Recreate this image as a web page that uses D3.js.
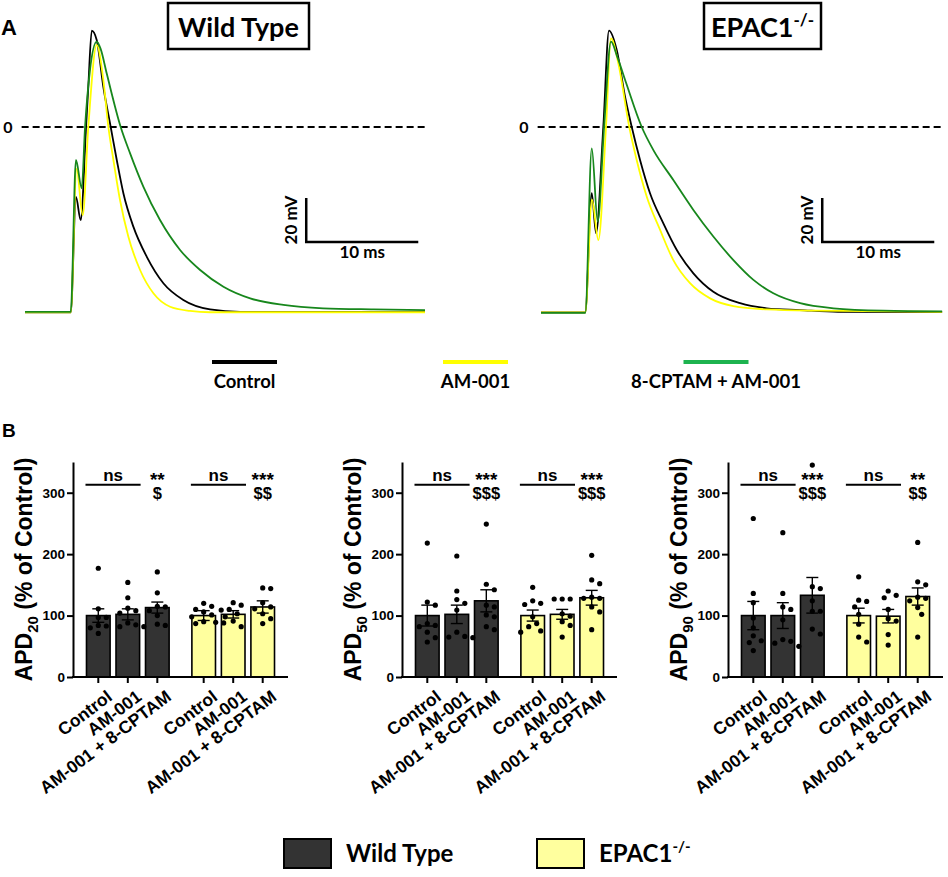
<!DOCTYPE html>
<html>
<head>
<meta charset="utf-8">
<script src="https://cdn.jsdelivr.net/npm/d3@7"></script>
<style>
	body { margin: 0; background: #fff; }
	.calibri { font-family: Lato, "Open Sans", sans-serif; font-weight: 700; }
	.prism { font-family: Arial, "Liberation Sans", sans-serif; font-weight: 700; }
</style>
</head>
<body>
<div id="graphic"></div>
<script>
// ---- panel A: action potential traces, [time ms, membrane potential mV] ----
const wtControl = [[0, -84.3], [4.08, -84.3], [4.55, -31.8], [4.97, -42.3], [5.45, 0], [5.65, 18.3], [5.96, 43.8], [6.40, 39.5], [6.99, 18.3], [7.65, 0], [8.19, -15], [8.78, -30.1], [9.67, -45.3], [10.87, -59], [12.35, -71], [14.13, -78.6], [16.52, -82.9], [19.2, -84], [35.7, -84]];
const wtAm001 = [[0, -84.3], [4.08, -84.3], [4.6, -19], [5.15, -40], [5.65, 0], [6.40, 37.3], [6.99, 21.4], [7.44, 0], [7.89, -15], [8.48, -33.2], [9.22, -49.8], [10.27, -65], [11.46, -75.6], [12.95, -81.7], [14.73, -83.6], [16.5, -84.2], [35.7, -84.2]];
const wtCptam = [[0, -84], [4.08, -84], [4.55, -15], [5.06, -27.9], [5.36, 0], [5.8, 25.9], [6.40, 38.8], [6.75, 35.5], [7.29, 24.4], [8.54, 0], [9.38, -12], [10.56, -27.1], [12.05, -42.3], [13.84, -55.9], [15.63, -65], [17.71, -72.6], [20.1, -77.9], [23.06, -80.9], [26.6, -82.4], [31.1, -82.9], [35.7, -83.2]];

const epacControl = [[0, -84.3], [3.95, -84.3], [4.53, -30.1], [4.91, -48.3], [5.56, 0], [6.07, 43.8], [6.76, 35], [7.5, 13.8], [8.1, 0], [8.84, -15], [9.73, -30.1], [10.92, -43.8], [12.12, -55.9], [13.6, -66.5], [15.38, -74.9], [17.77, -80.1], [20.15, -82.4], [23.1, -83.2], [26.5, -84], [35.8, -84.1]];
const epacAm001 = [[0, -84.3], [3.95, -84.3], [4.55, -33], [5.12, -51.4], [5.8, 0], [6.25, 40.3], [6.9, 29], [7.88, 0], [8.54, -15], [9.44, -31.7], [10.63, -46.8], [11.81, -60.5], [13.3, -71], [15.09, -77.9], [17.17, -81.4], [20.15, -82.9], [24.6, -83.5], [35.8, -84]];
const epacCptam = [[0, -84.5], [3.95, -84.5], [4.53, -9.7], [5.06, -43], [5.63, 0], [6.25, 38.8], [6.8, 32], [7.6, 20], [8.99, 0], [10.03, -10.5], [11.81, -24.1], [13.6, -37.7], [15.38, -49.8], [17.17, -60.5], [18.96, -69.5], [20.74, -75.6], [23.13, -80.1], [26.1, -82.4], [30.56, -83.5], [35.8, -83.8]];

const traceLabels = ['Control', 'AM-001', '8-CPTAM + AM-001'];
const traceColours = ['#000000', '#ffff00', '#17871c'];
const legendColours = ['#000000', '#ffff00', '#1db34f'];

// ---- panel B: APD as % of control ----
const genotypes = ['Wild Type', 'EPAC1-/-'];
const treatments = ['Control', 'AM-001', 'AM-001 + 8-CPTAM'];
const yTicks = [0, 100, 200, 300];

// order: WT Control, WT AM-001, WT AM+8-CPTAM, EPAC Control, EPAC AM-001, EPAC AM+8-CPTAM
const apd20Mean = [100, 102, 113, 100, 102, 114];
const apd20Sem = [11, 9, 9, 8, 6, 10];
const apd20Points = [
	[177, 111, 97, 97, 84, 83, 71, 80],
	[154, 129, 112, 108, 104, 88, 85, 82, 82],
	[171, 137, 115, 114, 108, 100, 86, 84],
	[120, 115, 110, 106, 101, 98, 90, 89, 88, 87],
	[121, 117, 110, 109, 103, 98, 91, 82],
	[145, 144, 121, 114, 111, 103, 95, 87]
];
const apd20Stars = ['**', '***'];
const apd20Dollars = ['$', '$$'];

const apd50Mean = [100, 102, 124, 100, 102, 129];
const apd50Sem = [17, 15, 18, 9, 8, 12];
const apd50Points = [
	[218, 122, 117, 87, 84, 82, 73, 64, 57],
	[197, 140, 126, 120, 109, 73, 66, 65, 64],
	[249, 151, 142, 117, 114, 101, 98, 82, 77],
	[146, 124, 120, 118, 98, 87, 82, 75, 73],
	[127, 127, 127, 103, 99, 90, 84, 65],
	[198, 158, 152, 130, 128, 128, 114, 106, 77]
];
const apd50Stars = ['***', '***'];
const apd50Dollars = ['$$$', '$$$'];

const apd90Mean = [100, 100, 133, 100, 99, 131];
const apd90Sem = [23, 21, 29, 12, 11, 14];
const apd90Points = [
	[258, 136, 121, 96, 80, 67, 59, 56, 43],
	[235, 136, 114, 110, 93, 61, 58, 55, 50],
	[345, 147, 144, 124, 107, 107, 78, 70],
	[163, 125, 123, 114, 102, 86, 65, 57],
	[140, 133, 129, 110, 95, 91, 69, 52],
	[219, 155, 150, 130, 128, 124, 113, 102, 65]
];
const apd90Stars = ['***', '**'];
const apd90Dollars = ['$$$', '$$'];

const barFills = ['#333333', '#ffff9e'];

const graphic = d3.select('#graphic');
const width = 948, height = 877;

function drawGraphic() {
	const svg = graphic.append('svg')
		.attr('width', width)
		.attr('height', height)
		.attr('viewBox', [0, 0, width, height]);

	svg.append('rect').attr('width', width).attr('height', height).attr('fill', '#fff');

	// ================= A : traces =================
	svg.append('text').attr('class', 'prism')
		.attr('x', 1).attr('y', 35)
		.style('font-size', '22px')
		.text('A');

	const yVolt = d3.scaleLinear().domain([-90, 50]).range([325, 17]);

	const tracePanels = [
		{ left: 25, traces: [wtControl, wtAm001, wtCptam], title: 'Wild Type', box: [168, 141] },
		{ left: 541, traces: [epacControl, epacAm001, epacCptam], title: 'EPAC1', sup: '-/-', box: [704, 117] }
	];

	tracePanels.forEach(function (p) {
		const xTime = d3.scaleLinear().domain([0, 35.7]).range([p.left, p.left + 400]);
		const g = svg.append('g');

		// title box
		g.append('rect')
			.attr('x', p.box[0]).attr('y', 3)
			.attr('width', p.box[1]).attr('height', 46)
			.attr('fill', 'none').attr('stroke', '#000').attr('stroke-width', 2.5);

		const title = g.append('text').attr('class', 'calibri')
			.attr('x', p.box[0] + p.box[1] / 2).attr('y', 37)
			.attr('text-anchor', 'middle')
			.style('font-size', '27px');
		title.append('tspan').text(p.title);
		if (p.sup) {
			title.append('tspan').attr('dy', -11).style('font-size', '17px').text(p.sup);
		}

		// zero line
		g.append('line')
			.attr('x1', xTime(-0.3)).attr('x2', xTime(36))
			.attr('y1', yVolt(0)).attr('y2', yVolt(0))
			.attr('stroke', '#000').attr('stroke-width', 2)
			.attr('stroke-dasharray', '7,4');

		g.append('text').attr('class', 'calibri')
			.attr('x', xTime(0) - 17).attr('y', yVolt(0) + 5.5)
			.attr('text-anchor', 'middle')
			.style('font-size', '16px')
			.text('0');

		// traces
		const line = d3.line()
			.curve(d3.curveMonotoneX)
			.x((d) => xTime(d[0]))
			.y((d) => yVolt(d[1]));

		g.selectAll('path.trace')
			.data(p.traces)
			.join('path')
			.attr('class', 'trace')
			.attr('d', line)
			.attr('fill', 'none')
			.attr('stroke', (d, i) => traceColours[i])
			.attr('stroke-width', 1.8)
			.attr('stroke-linejoin', 'round');

		// scale bar: 10 ms by 20 mV
		const sbT = 25.1, sbV = -52.3;
		g.append('path')
			.attr('d', d3.line()([
				[xTime(sbT), yVolt(sbV + 20)],
				[xTime(sbT), yVolt(sbV)],
				[xTime(sbT + 10), yVolt(sbV)]
			]))
			.attr('fill', 'none').attr('stroke', '#000').attr('stroke-width', 2.5);

		g.append('text').attr('class', 'calibri')
			.attr('transform', 'translate(' + (xTime(sbT) - 9) + ',' + yVolt(sbV + 10) + ') rotate(-90)')
			.attr('text-anchor', 'middle')
			.style('font-size', '17px')
			.text('20 mV');

		g.append('text').attr('class', 'calibri')
			.attr('x', xTime(sbT + 5)).attr('y', yVolt(sbV) + 16)
			.attr('text-anchor', 'middle')
			.style('font-size', '17px')
			.text('10 ms');
	});

	// trace legend
	const traceLegendX = [244.5, 475.5, 716];
	const traceLegend = svg.append('g')
		.selectAll('g')
		.data(traceLabels)
		.join('g')
		.attr('transform', (d, i) => 'translate(' + traceLegendX[i] + ',0)');

	traceLegend.append('line')
		.attr('x1', -32.5).attr('x2', 32.5)
		.attr('y1', 362).attr('y2', 362)
		.attr('stroke', (d, i) => legendColours[i])
		.attr('stroke-width', 4);

	traceLegend.append('text').attr('class', 'calibri')
		.attr('y', 388)
		.attr('text-anchor', 'middle')
		.style('font-size', '18.5px')
		.text((d) => d);

	// ================= B : APD bars =================
	svg.append('text').attr('class', 'prism')
		.attr('x', 2).attr('y', 437)
		.style('font-size', '19px')
		.text('B');

	const apdPanels = [
		{ sub: '20', left: 73, means: apd20Mean, sems: apd20Sem, points: apd20Points, stars: apd20Stars, dollars: apd20Dollars },
		{ sub: '50', left: 402, means: apd50Mean, sems: apd50Sem, points: apd50Points, stars: apd50Stars, dollars: apd50Dollars },
		{ sub: '90', left: 728, means: apd90Mean, sems: apd90Sem, points: apd90Points, stars: apd90Stars, dollars: apd90Dollars }
	];

	const axisWidth = 215;
	const y = d3.scaleLinear().domain([0, 350]).range([677, 462]);

	const xGroup = d3.scaleBand()
		.domain(genotypes)
		.range([0, axisWidth])
		.paddingInner(0.16)
		.paddingOuter(0.1);

	const xBar = d3.scaleBand()
		.domain(treatments)
		.range([0, xGroup.bandwidth()])
		.paddingInner(0.2)
		.paddingOuter(0.1);

	const dotR = 2.6;

	// spread close values sideways so dots do not overlap (prism style scatter)
	function swarm(values) {
		const placed = [];
		values
			.map((v) => ({ v: v, py: y(v) }))
			.sort((a, b) => a.py - b.py)
			.forEach(function (p) {
				for (let k = 0; k < 30; k++) {
					const off = k === 0 ? 0 : (k % 2 ? 1 : -1) * Math.ceil(k / 2) * 4;
					if (placed.every((q) => Math.hypot(q.dx - off, q.py - p.py) >= dotR * 2 + 2.5)) {
						p.dx = off;
						break;
					}
				}
				placed.push(p);
			});
		return placed;
	}

	apdPanels.forEach(function (panel) {
		const g = svg.append('g').attr('transform', 'translate(' + panel.left + ',0)');

		const bars = [];
		genotypes.forEach(function (gen, gi) {
			treatments.forEach(function (tr, ti) {
				const i = gi * 3 + ti;
				bars.push({
					gi: gi,
					x: xGroup(gen) + xBar(tr),
					cx: xGroup(gen) + xBar(tr) + xBar.bandwidth() / 2,
					mean: panel.means[i],
					sem: panel.sems[i],
					points: panel.points[i],
					label: tr
				});
			});
		});

		// bars
		g.selectAll('rect.bar')
			.data(bars)
			.join('rect')
			.attr('class', 'bar')
			.attr('x', (d) => d.x)
			.attr('y', (d) => y(d.mean))
			.attr('width', xBar.bandwidth())
			.attr('height', (d) => y(0) - y(d.mean))
			.attr('fill', (d) => barFills[d.gi])
			.attr('stroke', '#000')
			.attr('stroke-width', 1.6);

		// error bars (SEM)
		const err = g.selectAll('g.err').data(bars).join('g').attr('class', 'err');
		err.append('line')
			.attr('x1', (d) => d.cx).attr('x2', (d) => d.cx)
			.attr('y1', (d) => y(d.mean - d.sem)).attr('y2', (d) => y(d.mean + d.sem))
			.attr('stroke', '#000')
			.attr('stroke-width', 1.4);
		err.selectAll('line.cap')
			.data((d) => [{ cx: d.cx, v: d.mean + d.sem }, { cx: d.cx, v: d.mean - d.sem }])
			.join('line')
			.attr('class', 'cap')
			.attr('x1', (d) => d.cx - 6).attr('x2', (d) => d.cx + 6)
			.attr('y1', (d) => y(d.v)).attr('y2', (d) => y(d.v))
			.attr('stroke', '#000')
			.attr('stroke-width', 1.4);

		// individual cells
		g.selectAll('g.dots')
			.data(bars)
			.join('g')
			.attr('class', 'dots')
			.selectAll('circle')
			.data((d) => swarm(d.points).map((p) => ({ cx: d.cx + p.dx, cy: p.py })))
			.join('circle')
			.attr('cx', (d) => d.cx)
			.attr('cy', (d) => d.cy)
			.attr('r', dotR)
			.attr('fill', '#000');

		// y axis
		const yAxis = g.append('g')
			.call(d3.axisLeft(y).tickValues(yTicks).tickSize(6).tickSizeOuter(0).tickFormat(d3.format('d')));
		yAxis.select('.domain').attr('stroke-width', 2);
		yAxis.selectAll('.tick line').attr('stroke-width', 2);
		yAxis.selectAll('.tick text')
			.attr('x', -8)
			.attr('font-size', 13.5)
			.attr('font-family', 'Arial, "Liberation Sans", sans-serif')
			.attr('font-weight', 700);

		// x axis
		g.append('line')
			.attr('x1', -1).attr('x2', axisWidth)
			.attr('y1', y(0)).attr('y2', y(0))
			.attr('stroke', '#000').attr('stroke-width', 2);

		g.selectAll('line.xtick')
			.data(bars)
			.join('line')
			.attr('class', 'xtick')
			.attr('x1', (d) => d.cx).attr('x2', (d) => d.cx)
			.attr('y1', y(0)).attr('y2', y(0) + 6)
			.attr('stroke', '#000').attr('stroke-width', 2);

		g.selectAll('text.xlab')
			.data(bars)
			.join('text')
			.attr('class', 'xlab prism')
			.attr('transform', (d) => 'translate(' + (d.cx + 15) + ',' + (y(0) + 22) + ') rotate(-37)')
			.attr('text-anchor', 'end')
			.style('font-size', '17.5px')
			.text((d) => d.label);

		// y label
		const yLab = g.append('text')
			.attr('class', 'prism')
			.attr('transform', 'translate(-41,' + (y(0) + y(350)) / 2 + ') rotate(-90)')
			.attr('text-anchor', 'middle')
			.style('font-size', '23px');
		yLab.append('tspan').text('APD');
		yLab.append('tspan').attr('dy', 6).style('font-size', '15px').text(panel.sub);
		yLab.append('tspan').attr('dy', -6).text(' (% of Control)');

		// significance
		genotypes.forEach(function (gen, gi) {
			const b0 = bars[gi * 3], b1 = bars[gi * 3 + 1], b2 = bars[gi * 3 + 2];
			g.append('line')
				.attr('x1', b0.x - 1).attr('x2', b1.x + xBar.bandwidth() + 1)
				.attr('y1', y(313)).attr('y2', y(313))
				.attr('stroke', '#000').attr('stroke-width', 2);
			g.append('text').attr('class', 'prism')
				.attr('x', (b0.cx + b1.cx) / 2).attr('y', y(313) - 4)
				.attr('text-anchor', 'middle')
				.style('font-size', '17px')
				.text('ns');
			const sig = g.append('text').attr('class', 'prism')
				.attr('text-anchor', 'middle');
			sig.append('tspan')
				.attr('x', b2.cx).attr('y', y(313) + 1)
				.style('font-size', '19px')
				.text(panel.stars[gi]);
			sig.append('tspan')
				.attr('x', b2.cx).attr('y', y(313) + 14)
				.style('font-size', '16.5px')
				.text(panel.dollars[gi]);
		});
	});

	// genotype legend
	const legendX = [284, 537];
	const legend = svg.append('g')
		.selectAll('g')
		.data(genotypes)
		.join('g')
		.attr('transform', (d, i) => 'translate(' + legendX[i] + ',839)');

	legend.append('rect')
		.attr('width', 47).attr('height', 29)
		.attr('fill', (d, i) => barFills[i])
		.attr('stroke', '#000').attr('stroke-width', 2);

	const legText = legend.append('text').attr('class', 'calibri')
		.attr('x', 62).attr('y', 23)
		.style('font-size', '24px');
	legText.append('tspan').text((d) => d.replace('-/-', ''));
	legText.filter((d) => d.indexOf('-/-') > -1)
		.append('tspan').attr('dy', -10).style('font-size', '15px').text('-/-');
}

drawGraphic();
</script>
</body>
</html>
